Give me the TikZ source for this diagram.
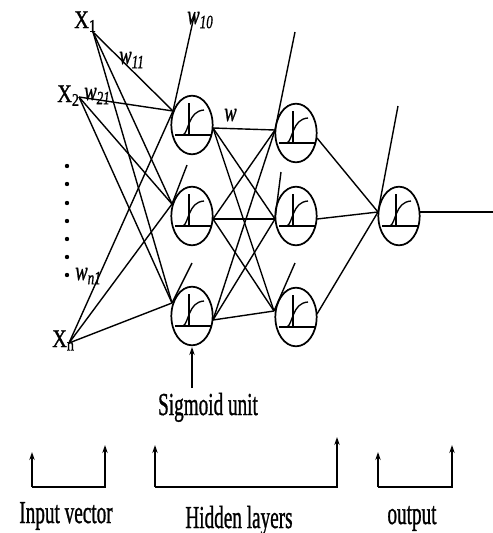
\documentclass[tikz,border=0pt]{standalone}
\usepackage{fontspec}
\setmainfont{Liberation Serif}
\newfontfamily\heavyfont[FakeBold=1.2]{Liberation Serif}
\usetikzlibrary{arrows.meta,shapes.geometric}
\tikzset{
  neuron/.style={draw, ellipse, line width=1.3pt, minimum width=31pt, minimum height=44pt, inner sep=0pt},
  sig/.pic={\draw[line width=1.2pt] (-17,10) -- (19,10);
            \draw[line width=1.2pt] (-3,-22) -- (-3,10);
            \draw[line width=1pt] (-9,10) .. controls (-3,7) and (-4,-14) .. (12,-15);},
  wire/.style={line width=1.05pt},
  wlab/.style={anchor=base west, inner sep=0pt, text height=9pt, font=\fontsize{20}{22}\selectfont\heavyfont\itshape},
  xlab/.style={anchor=base west, inner sep=0pt, font=\fontsize{19}{20}\selectfont\heavyfont},
  biglab/.style={anchor=base, inner sep=0pt, font=\fontsize{24}{26}\selectfont\heavyfont},
  uparrow/.style={line width=1.2pt, -{Stealth[length=6pt,width=4pt]}},
}
\newcommand{\cond}[1]{\scalebox{0.6}[1]{#1}}
\newcommand{\wcond}[1]{\scalebox{0.7}[1]{#1}}
\newcommand{\xcond}[1]{\scalebox{0.8}[1]{#1}}
\begin{document}
\begin{tikzpicture}[x=0.75pt,y=-0.75pt]
\useasboundingbox (0,0) rectangle (493,533);
% inputs
\coordinate (x1) at (93,32);
\coordinate (x2) at (79,97);
\coordinate (xn) at (69,343);
\node[xlab] (lx1) at (74,28) {\xcond{X\textsubscript{1}}};
\node[xlab] (lx2) at (57,102) {\xcond{X\textsubscript{2}}};
\node[xlab] (lxn) at (52,347) {\xcond{X\textsubscript{n}}};
\foreach \i/\y in {1/166,2/184,3/203,4/221,5/239,6/257,7/275}
  \fill (67,\y) circle[radius=2.2] coordinate (d\i);
% neurons
\node[neuron] (n11) at (192,125) {};
\node[neuron] (n12) at (192,216) {};
\node[neuron] (n13) at (192,316) {};
\node[neuron] (n21) at (296,133) {};
\node[neuron] (n22) at (296,216) {};
\node[neuron] (n23) at (296,317) {};
\node[neuron] (no) at (399,216) {};
\foreach \n in {n11,n12,n13,n21,n22,n23,no}
  \pic at (\n) {sig};
% ports
\coordinate (i11) at (173,111);
\coordinate (i12) at (172,204);
\coordinate (i13) at (172,303);
\coordinate (o11) at (213,128);
\coordinate (o12) at (213,219);
\coordinate (o13) at (213,320);
\coordinate (i21) at (275,130);
\coordinate (i22) at (275,219);
\coordinate (i23) at (274,311);
\coordinate (o21) at (317,138);
\coordinate (o22) at (317,219);
\coordinate (o23) at (317,314);
\coordinate (io) at (378,212);
\coordinate (oo) at (419,212);
\coordinate (yend) at (493,212);
% bias tops
\coordinate (b11) at (195,12);
\coordinate (b12) at (187,165);
\coordinate (b13) at (192,263);
\coordinate (b21) at (295,32);
\coordinate (b22) at (281,172);
\coordinate (b23) at (295,263);
\coordinate (bo) at (398,106);
% wires
\foreach \s in {x1,x2,xn}
  \foreach \t in {i11,i12,i13}
    \draw[wire] (\s) -- (\t);
\foreach \s in {o11,o12,o13}
  \foreach \t in {i21,i22,i23}
    \draw[wire] (\s) -- (\t);
\foreach \s in {o21,o22,o23}
  \draw[wire] (\s) -- (io);
\draw[wire] (oo) -- (yend);
\foreach \a/\b in {i11/b11,i12/b12,i13/b13,i21/b21,i22/b22,i23/b23,io/bo}
  \draw[wire] (\a) -- (\b);
% weight labels
\node[wlab] (w10) at (187,24) {\wcond{w\textsubscript{10}}};
\node[wlab] (w11) at (119,64) {\wcond{w\textsubscript{11}}};
\node[wlab] (w21) at (84,100) {\wcond{w\textsubscript{21}}};
\node[wlab] (wn1) at (75,280) {\wcond{w\textsubscript{n1}}};
\node[wlab] (w) at (224,121) {\wcond{w}};
% sigmoid unit
\coordinate (sa) at (192,388);
\coordinate (sb) at (192,347);
\draw[uparrow] (sa) -- (sb);
\node[biglab] (sigu) at (208,415) {\cond{Sigmoid unit}};
% brackets
\coordinate (p1) at (32,452); \coordinate (p2) at (32,487);
\coordinate (p3) at (105,487); \coordinate (p4) at (105,445);
\draw[uparrow] (p2) -- (p1);
\draw[uparrow] (p2) -- (p3) -- (p4);
\coordinate (h1) at (155,445); \coordinate (h2) at (155,487);
\coordinate (h3) at (337,487); \coordinate (h4) at (337,437);
\draw[uparrow] (h2) -- (h1);
\draw[uparrow] (h2) -- (h3) -- (h4);
\coordinate (q1) at (378,452); \coordinate (q2) at (378,487);
\coordinate (q3) at (452,487); \coordinate (q4) at (452,445);
\draw[uparrow] (q2) -- (q1);
\draw[uparrow] (q2) -- (q3) -- (q4);
\node[biglab] (inv) at (66,523) {\cond{Input vector}};
\node[biglab] (hid) at (239,528) {\cond{Hidden layers}};
\node[biglab] (outl) at (412,524) {\cond{output}};
\end{tikzpicture}
\end{document}
